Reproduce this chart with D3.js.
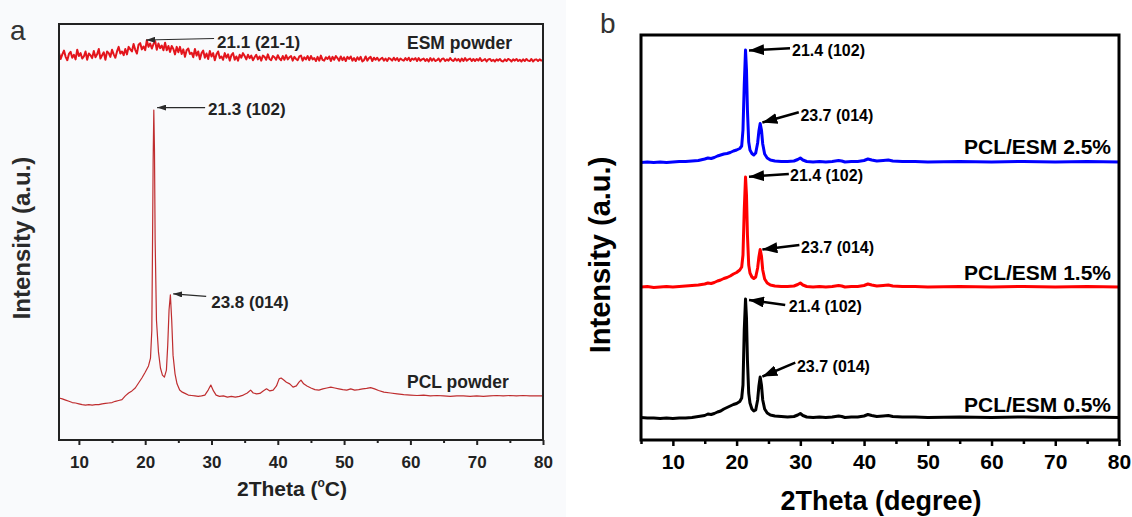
<!DOCTYPE html>
<html>
<head>
<meta charset="utf-8">
<script src="https://cdn.jsdelivr.net/npm/d3@7"></script>
<style>
  body { margin: 0; background: #fff; }
  svg { display: block; }
  text { font-family: "Liberation Sans", Arial, Helvetica, sans-serif; }
</style>
</head>
<body>
<svg id="chart" width="1132" height="517"></svg>
<script>
// ---------- data: panel a (powders) ----------
// ESM powder scan, uniform 0.25 deg step starting at 7 deg (one row per degree)
const esmStart = 7;
const esmStep = 0.25;
const esmPowder = [
  93.1, 91.6, 92.7, 93.6,   92.1, 91.3, 92.8, 93.3,   91.9, 92.6, 91.5, 93.8,   92.3, 93.0, 91.7, 92.2,
  93.4, 91.4, 92.9, 92.5,   91.8, 93.5, 92.0, 92.7,   94.0, 91.7, 92.5, 93.2,   91.4, 93.4, 93.0, 92.1,
  93.8, 92.7, 91.9, 93.4,   94.5, 92.9, 93.4, 92.5,   94.0, 92.7, 94.5, 93.9,   93.4, 95.2, 93.8, 92.9,
  95.0, 95.4, 93.9, 94.6,   93.7, 96.1, 94.5, 95.3,   94.1, 95.2, 95.9, 93.8,   95.3, 94.2, 94.8, 93.7,
  95.5, 93.7, 94.7, 93.3,   94.7, 94.0, 92.7, 94.5,   93.2, 94.5, 92.8, 93.9,   92.1, 93.7, 94.1, 92.8,
  93.1, 92.0, 94.0, 92.4,   93.4, 91.5, 93.0, 93.6,   91.9, 92.9, 91.6, 93.5,   92.2, 93.0, 91.3, 92.7,
  93.4, 91.8, 92.2, 91.4,   93.0, 91.9, 92.7, 91.2,   92.5, 93.0, 91.4, 92.2,   91.2, 92.6, 91.9, 93.0,
  92.3, 91.5, 92.6, 91.8,   92.4, 91.3, 92.0, 92.6,   91.5, 92.2, 91.2, 92.4,   92.1, 91.4, 92.7, 91.6,
  91.3, 92.3, 92.0, 91.4,   92.5, 91.7, 91.3, 92.3,   91.4, 92.5, 91.5, 92.0,   92.3, 91.2, 92.1, 91.6,
  91.3, 92.2, 92.4, 91.2,   92.0, 91.5, 92.3, 91.3,   92.3, 91.5, 91.8, 91.1,   92.1, 91.2, 92.4, 91.4,
  91.2, 92.0, 91.6, 92.2,   91.1, 92.1, 91.4, 92.3,   91.8, 91.2, 92.2, 91.3,   92.0, 91.1, 92.1, 91.6,
  92.2, 91.2, 91.8, 91.1,   92.0, 91.4, 92.1, 91.0,   91.3, 92.2, 91.2, 91.8,   92.1, 91.1, 91.9, 91.4,
  91.9, 91.2, 91.6, 91.9,   91.2, 91.7, 91.1, 91.8,   91.6, 91.2, 91.9, 91.3,   91.8, 91.1, 91.7, 91.4,
  91.2, 91.8, 91.3, 91.9,   91.1, 91.7, 91.4, 91.8,   91.1, 91.8, 91.2, 91.5,   91.7, 91.1, 91.6, 91.0,
  91.8, 91.2, 91.7, 91.1,   91.3, 91.7, 91.0, 91.6,   91.7, 91.1, 91.5, 91.2,   91.8, 91.3, 91.1, 91.7,
  91.2, 91.6, 91.0, 91.7,   91.1, 91.8, 91.2, 91.5,   91.7, 91.1, 91.6, 91.1,   91.6, 91.2, 91.8, 91.1,
  91.3, 91.6, 91.0, 91.5,   91.6, 91.1, 91.4, 91.0,   91.5, 91.2, 91.6, 91.1,   91.0, 91.5, 91.1, 91.6,
  91.4, 91.0, 91.5, 91.2,   91.6, 91.1, 91.4, 91.0,   91.5, 91.1, 91.6, 91.2,   91.1, 91.6, 91.0, 91.4,
  91.5, 91.1, 91.5, 91.2,   91.4
];

// PCL powder scan
const pclTheta = [
  7, 7.5, 8, 8.5, 9, 9.5, 10, 10.5, 11, 11.5, 12, 12.5, 13, 13.5, 14, 14.5, 15, 15.5, 16, 16.5,
  17, 17.5, 18, 18.5, 19, 19.5, 20, 20.5, 20.8, 21.0, 21.1, 21.2, 21.3, 21.4, 21.5, 21.7, 22.0, 22.3,
  22.6, 22.9, 23.2, 23.4, 23.6, 23.8, 24.0, 24.2, 24.5, 24.8, 25.2, 25.6, 26, 26.5, 27, 27.5, 28,
  28.5, 29, 29.5, 29.9, 30.3, 30.7, 31.2, 31.8, 32.4, 33, 33.6, 34.2, 34.8, 35.4, 35.9, 36.3, 36.8,
  37.3, 37.8, 38.3, 38.8, 39.3, 39.8, 40.2, 40.5, 40.9, 41.3, 41.8, 42.3, 42.8, 43.2, 43.5, 43.9,
  44.4, 45, 45.6, 46.2, 46.8, 47.4, 48, 48.6, 49.2, 49.8, 50.4, 51, 51.6, 52.2, 52.8, 53.4, 54,
  54.6, 55.2, 56, 57, 58, 59, 60, 61, 62, 63, 64, 65, 66, 67, 68, 69, 70, 71, 72, 73, 74, 75, 76,
  77, 78, 79, 80
];
const pclPowder = [
  10.1, 9.9, 9.6, 9.3, 9.0, 8.9, 8.7, 8.5, 8.4, 8.5, 8.4, 8.5, 8.5, 8.7, 8.8, 8.9, 9.0, 9.3, 9.5, 9.7,
  10.6, 11.3, 11.8, 12.5, 13.7, 14.9, 16.3, 17.8, 19.7, 26.4, 45.7, 67.3, 79.3, 69.7, 48.1, 28.8, 21.2, 17.3,
  15.6, 15.1, 16.8, 22.8, 31.3, 34.9, 28.8, 20.4, 15.9, 13.5, 12.0, 11.5, 11.2, 10.8, 10.7, 10.6, 10.5,
  10.6, 10.8, 12.0, 13.2, 11.8, 10.8, 10.5, 10.6, 10.3, 10.5, 10.3, 10.5, 10.8, 11.3, 12.0, 11.3, 11.1,
  11.2, 11.8, 12.3, 11.8, 12.0, 13.0, 14.7, 14.9, 14.4, 13.9, 13.5, 12.7, 13.0, 13.9, 14.4, 13.5,
  13.0, 12.5, 12.1, 12.0, 12.3, 12.5, 12.7, 12.5, 12.3, 12.1, 12.0, 12.3, 12.0, 12.1, 12.3, 12.4, 12.6,
  12.3, 11.9, 11.5, 11.3, 11.1, 10.9, 10.8, 10.7, 10.8, 10.6, 10.7, 10.6, 10.5, 10.6, 10.6, 10.5, 10.6, 10.5, 10.6, 10.7, 10.6, 10.7, 10.6,
  10.7, 10.6, 10.6, 10.6
];

// marked reflections, panel a
const peaksA = [
  { series: "esm", theta: 21.1, value: 95.0, label: "21.1 (21-1)" },
  { series: "pcl", theta: 21.3, value: 79.3, label: "21.3 (102)" },
  { series: "pcl", theta: 23.8, value: 34.9, label: "23.8 (014)" }
];
const seriesLabelsA = ["ESM powder", "PCL powder"];
const ticksMajorA = [10, 20, 30, 40, 50, 60, 70, 80];
const ticksMinorA = [15, 25, 35, 45, 55, 65, 75];

// ---------- data: panel b (PCL/ESM membranes) ----------
const thetaB = [
  5, 6, 7, 8, 9, 10, 11, 12, 13, 14, 15, 15.5, 16, 16.5, 17, 17.5, 18, 18.5, 19, 19.5, 20, 20.5, 20.8,
  21.0, 21.2, 21.4, 21.55, 21.7, 21.9, 22.1, 22.4, 22.7, 23.0, 23.3, 23.5, 23.7, 23.9, 24.1, 24.4, 24.8, 25.3,
  26, 27, 28, 29, 29.6, 30, 30.4, 31, 32, 33, 34, 35, 36, 36.5, 37, 38, 39, 40, 40.6, 41.2, 42, 43, 43.8,
  44.5, 46, 48, 50, 55, 60, 65, 70, 75, 80
];
const pclEsm05 = [
  22.5, 22, 22, 21.5, 22, 21.5, 22, 22, 22.5, 23.5, 24.5, 26, 25.5, 26.5, 28, 29, 31, 32.5, 34, 35.5, 36.5, 38.5, 42,
  55, 110, 141, 122, 80, 47, 37, 31, 29, 30, 40, 54, 63, 55, 40, 31, 27, 25,
  24, 23.5, 23, 23.5, 25, 26.5, 24.5, 23, 22.5, 23, 22.5, 23, 24, 23.5, 22.5, 23, 23, 24, 25.5, 24.5, 23.5, 24, 24.5,
  23.5, 23, 23, 22.5, 23, 22.5, 23, 22.5, 23, 22.5
];
const pclEsm15 = [
  153, 153.5, 152.5, 153, 153.5, 153, 153.5, 154, 154.5, 155, 156, 157, 156.5, 157.5, 159, 160, 161.5, 162.5, 164, 166, 167.5, 170, 173,
  185, 230, 263, 245, 205, 175, 167, 163, 161.5, 163, 172, 183, 190.5, 184, 170, 161, 157, 155,
  154, 153.5, 153.5, 154, 155.5, 157, 155, 153.5, 153, 153.5, 153, 153.5, 154.5, 154, 153, 153.5, 153.5, 154.5, 156, 155, 154, 154.5, 155,
  154, 153.5, 153.5, 153, 153.5, 153, 153.5, 153, 153.5, 153
];
const pclEsm25 = [
  277.5, 278, 277.5, 278, 277.5, 278, 278.5, 278.5, 279, 279.5, 281, 282, 281.5, 282.5, 284, 285, 286, 286.5, 287.5, 289, 290, 291.5, 294,
  310, 355, 390, 370, 330, 298, 290, 286.5, 285, 287, 297, 309, 316.5, 310, 296, 286, 282, 280,
  279, 278.5, 278.5, 279, 280.5, 282, 280, 278.5, 278, 278.5, 278, 278.5, 279.5, 279, 278, 278.5, 278.5, 279.5, 281, 280, 279, 279.5, 280,
  279, 278.5, 278.5, 278, 278.5, 278, 278.5, 278, 278.5, 278
];
const seriesNamesB = ["PCL/ESM 2.5%", "PCL/ESM 1.5%", "PCL/ESM 0.5%"];
const peaksB = [
  { series: 0, theta: 21.4, value: 390, label: "21.4 (102)" },
  { series: 0, theta: 23.7, value: 316.5, label: "23.7 (014)" },
  { series: 1, theta: 21.4, value: 263, label: "21.4 (102)" },
  { series: 1, theta: 23.7, value: 190.5, label: "23.7 (014)" },
  { series: 2, theta: 21.4, value: 141, label: "21.4 (102)" },
  { series: 2, theta: 23.7, value: 63, label: "23.7 (014)" }
];
const ticksMajorB = [10, 20, 30, 40, 50, 60, 70, 80];
const ticksMinorB = [5, 15, 25, 35, 45, 55, 65, 75];

// ---------- drawing ----------
const svg = d3.select("#chart");
const defs = svg.append("defs");

function arrowMarker(id, len, wid, color) {
  defs.append("marker")
    .attr("id", id)
    .attr("markerUnits", "userSpaceOnUse")
    .attr("viewBox", `0 0 ${len} ${wid}`)
    .attr("markerWidth", len).attr("markerHeight", wid)
    .attr("refX", len).attr("refY", wid / 2)
    .attr("orient", "auto")
    .append("path")
    .attr("d", `M0,0L${len},${wid / 2}L0,${wid}Z`)
    .attr("fill", color);
}
arrowMarker("headA", 9, 6, "#2a2a2a");
arrowMarker("headB", 15, 11, "#000");

function bottomAxis(parent, x, y0, major, minor, st) {
  const gMaj = parent.append("g").attr("transform", `translate(0,${y0})`)
    .call(d3.axisBottom(x).tickValues(major).tickSize(st.major).tickPadding(st.pad).tickFormat(d3.format("d")));
  const gMin = parent.append("g").attr("transform", `translate(0,${y0})`)
    .call(d3.axisBottom(x).tickValues(minor).tickSize(st.minor).tickFormat(""));
  [gMaj, gMin].forEach(g => {
    g.select(".domain").remove();
    g.selectAll(".tick line").attr("stroke", st.color).attr("stroke-width", st.sw);
  });
  gMaj.selectAll(".tick text")
    .attr("fill", st.color)
    .attr("font-size", st.fs)
    .attr("font-weight", "bold")
    .attr("font-family", "Liberation Sans, Arial, sans-serif");
}

// ===== panel a =====
const xA = d3.scaleLinear().domain([7, 80]).range([59, 543]);
const yA = d3.scaleLinear().domain([0, 100]).range([440, 24]);
const gA = svg.append("g");

gA.append("rect").attr("x", 0).attr("y", 0).attr("width", 566).attr("height", 517).attr("fill", "#f9fafc");

const lineA = d3.line().x(d => xA(d[0])).y(d => yA(d[1]));
const esmPts = esmPowder.map((v, i) => [esmStart + i * esmStep, v]);
const pclPts = pclTheta.map((t, i) => [t, pclPowder[i]]);

gA.append("path").datum(esmPts).attr("d", lineA)
  .attr("fill", "none").attr("stroke", "#e3151c").attr("stroke-width", 2).attr("stroke-linejoin", "round");
gA.append("path").datum(pclPts).attr("d", lineA)
  .attr("fill", "none").attr("stroke", "#bf2d2f").attr("stroke-width", 1.2).attr("stroke-linejoin", "round");

gA.append("rect").attr("x", 59).attr("y", 24).attr("width", 484).attr("height", 416)
  .attr("fill", "none").attr("stroke", "#222").attr("stroke-width", 2);

bottomAxis(gA, xA, 440, ticksMajorA, ticksMinorA, { major: 5, minor: 3, pad: 10.5, color: "#222", sw: 2, fs: 17 });

// arrow/label offsets from each marked peak: [tip, tail, text]
const layoutA = [
  { tip: [-6.4, -4.8], tail: [61.6, -6.3], text: [64.6, 3.4] },
  { tip: [3.3, -2.5], tail: [51.3, -2.5], text: [54.3, 5.2] },
  { tip: [2.8, -1], tail: [35.8, 1.5], text: [40.8, 13.2] }
];
peaksA.forEach((p, i) => {
  const px = xA(p.theta), py = yA(p.value), L = layoutA[i];
  gA.append("line")
    .attr("x1", px + L.tail[0]).attr("y1", py + L.tail[1])
    .attr("x2", px + L.tip[0]).attr("y2", py + L.tip[1])
    .attr("stroke", "#2a2a2a").attr("stroke-width", 1.2)
    .attr("marker-end", "url(#headA)");
  gA.append("text").attr("x", px + L.text[0]).attr("y", py + L.text[1])
    .attr("font-size", 17).attr("font-weight", "bold").attr("fill", "#222")
    .text(p.label);
});

gA.append("text").attr("x", 407).attr("y", 49).attr("font-size", 17.5).attr("font-weight", "bold")
  .attr("fill", "#222").text(seriesLabelsA[0]);
gA.append("text").attr("x", 407).attr("y", 388).attr("font-size", 17.5).attr("font-weight", "bold")
  .attr("fill", "#222").text(seriesLabelsA[1]);

const titleA = gA.append("text").attr("x", 292).attr("y", 496).attr("text-anchor", "middle")
  .attr("font-size", 21).attr("font-weight", "bold").attr("fill", "#222");
titleA.append("tspan").text("2Theta (");
titleA.append("tspan").attr("font-size", 12).attr("dy", -9).text("o");
titleA.append("tspan").attr("dy", 9).text("C)");

gA.append("text").attr("transform", "translate(30,238) rotate(-90)").attr("text-anchor", "middle")
  .attr("font-size", 24).attr("font-weight", "bold").attr("fill", "#2a2a2a").text("Intensity (a.u.)");

gA.append("text").attr("x", 10).attr("y", 40).attr("font-size", 28).attr("fill", "#333").text("a");

// ===== panel b =====
const xB = d3.scaleLinear().domain([5, 80]).range([641, 1119]);
const yB = d3.scaleLinear().domain([0, 405]).range([440, 35]);
const gB = svg.append("g");
const lineB = d3.line().x((d, i) => xB(thetaB[i])).y(d => yB(d));
const seriesB = [pclEsm25, pclEsm15, pclEsm05];
const colorsB = ["#0000ff", "#ff0000", "#000000"];

seriesB.forEach((s, k) => {
  gB.append("path").datum(s).attr("d", lineB)
    .attr("fill", "none").attr("stroke", colorsB[k]).attr("stroke-width", 3)
    .attr("stroke-linejoin", "round");
});

gB.append("rect").attr("x", 641).attr("y", 35).attr("width", 478).attr("height", 405)
  .attr("fill", "none").attr("stroke", "#000").attr("stroke-width", 3);

bottomAxis(gB, xB, 440, ticksMajorB, ticksMinorB, { major: 6, minor: 4, pad: 8, color: "#000", sw: 2.5, fs: 21 });

const layoutB = [
  { tip: [3.5, 0.5], tail: [44.5, -1.7], text: [46.5, 5.6] },
  { tip: [2.2, -1], tail: [38.6, -11.2], text: [40.2, -2.9] },
  { tip: [3.5, -0.3], tail: [43.3, -3], text: [44.5, 3.6] },
  { tip: [2.2, 0], tail: [39.2, -4.5], text: [40.9, 3.4] },
  { tip: [3.5, 1], tail: [39.7, 6], text: [43.3, 13.2] },
  { tip: [2.2, -0.5], tail: [35.1, -14.3], text: [36.8, -4.8] }
];
peaksB.forEach((p, i) => {
  const px = xB(p.theta), py = yB(p.value), L = layoutB[i];
  gB.append("line")
    .attr("x1", px + L.tail[0]).attr("y1", py + L.tail[1])
    .attr("x2", px + L.tip[0]).attr("y2", py + L.tip[1])
    .attr("stroke", "#000").attr("stroke-width", 2.5)
    .attr("marker-end", "url(#headB)");
  gB.append("text").attr("x", px + L.text[0]).attr("y", py + L.text[1])
    .attr("font-size", 16).attr("font-weight", "bold").attr("fill", "#000")
    .text(p.label);
});

const nameY = [154, 280, 412];
seriesNamesB.forEach((n, k) => {
  gB.append("text").attr("x", 1111).attr("y", nameY[k]).attr("text-anchor", "end")
    .attr("font-size", 21).attr("font-weight", "bold").attr("fill", "#000").text(n);
});

gB.append("text").attr("x", 881).attr("y", 510).attr("text-anchor", "middle")
  .attr("font-size", 27).attr("font-weight", "bold").attr("fill", "#000").text("2Theta (degree)");
gB.append("text").attr("transform", "translate(610,255) rotate(-90)").attr("text-anchor", "middle")
  .attr("font-size", 29).attr("font-weight", "bold").attr("fill", "#000").text("Intensity (a.u.)");

gB.append("text").attr("x", 600).attr("y", 33).attr("font-size", 28).attr("fill", "#333").text("b");
</script>
</body>
</html>
